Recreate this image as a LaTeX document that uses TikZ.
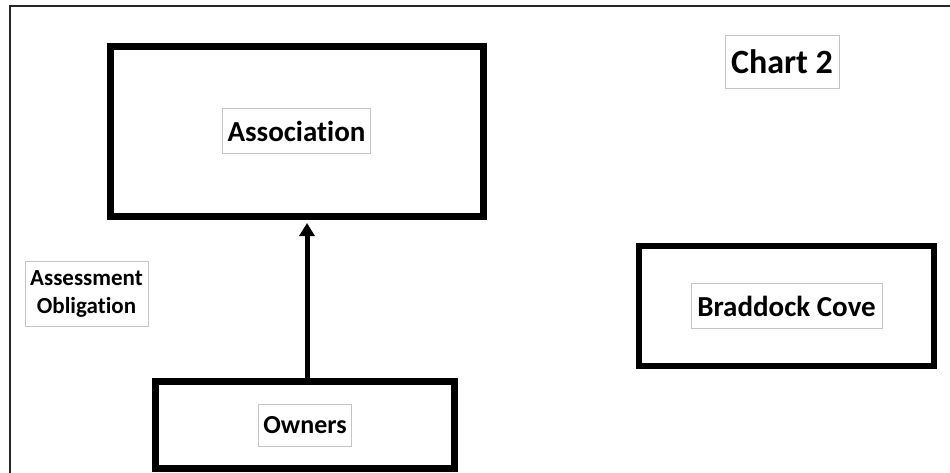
\documentclass[tikz,border=0pt]{standalone}
\usepackage{fontspec}
\setmainfont{Carlito}[Ligatures={NoCommon}]
\usetikzlibrary{arrows.meta}
\definecolor{labelgray}{HTML}{C4C4C4}

\begin{document}
\begin{tikzpicture}[x=1pt, y=-1pt,
        bigbox/.style={draw, line width=7, inner sep=0},
        tag/.style={draw=labelgray, line width=1, fill=white, inner sep=0},
        flow/.style={-{Triangle[width=15pt, length=13pt]}, line width=5}
    ]
        \useasboundingbox (0, 0) rectangle (950, 472);
        \clip (0, 0) rectangle (950, 472);
        \draw[line width=1.8, black!85] (10, 6) rectangle (960, 490);

        \node[bigbox, minimum width=373, minimum height=170] (assocbox) at (296.5, 131) {};
        \node[bigbox, minimum width=299, minimum height=87] (ownbox) at (305, 425) {};
        \node[bigbox, line width=6, minimum width=295, minimum height=120] (bcbox) at (786.5, 306) {};

        \node[tag, minimum width=148, minimum height=45, font=\bfseries\fontsize{29}{35}\selectfont] (assoc) at (assocbox.center) {Association};
        \node[tag, minimum width=93, minimum height=42, font=\bfseries\fontsize{26}{31}\selectfont] (owners) at (ownbox.center) {Owners};
        \node[tag, minimum width=191, minimum height=45, font=\bfseries\fontsize{29}{35}\selectfont] (bc) at (bcbox.center) {Braddock Cove};
        \node[tag, minimum width=114, minimum height=53, font=\bfseries\fontsize{34}{40}\selectfont] (chart) at (782, 61.5) {Chart 2};
        \node[tag, minimum width=123, minimum height=65, align=center, font=\bfseries\fontsize{23}{28}\selectfont] (oblig) at (86.5, 293.5) {Assessment\\Obligation};

        \draw[flow, shorten >=3.5] ([xshift=2]ownbox.north) -- ([xshift=2]ownbox.north |- assocbox.south);
\end{tikzpicture}
\end{document}
